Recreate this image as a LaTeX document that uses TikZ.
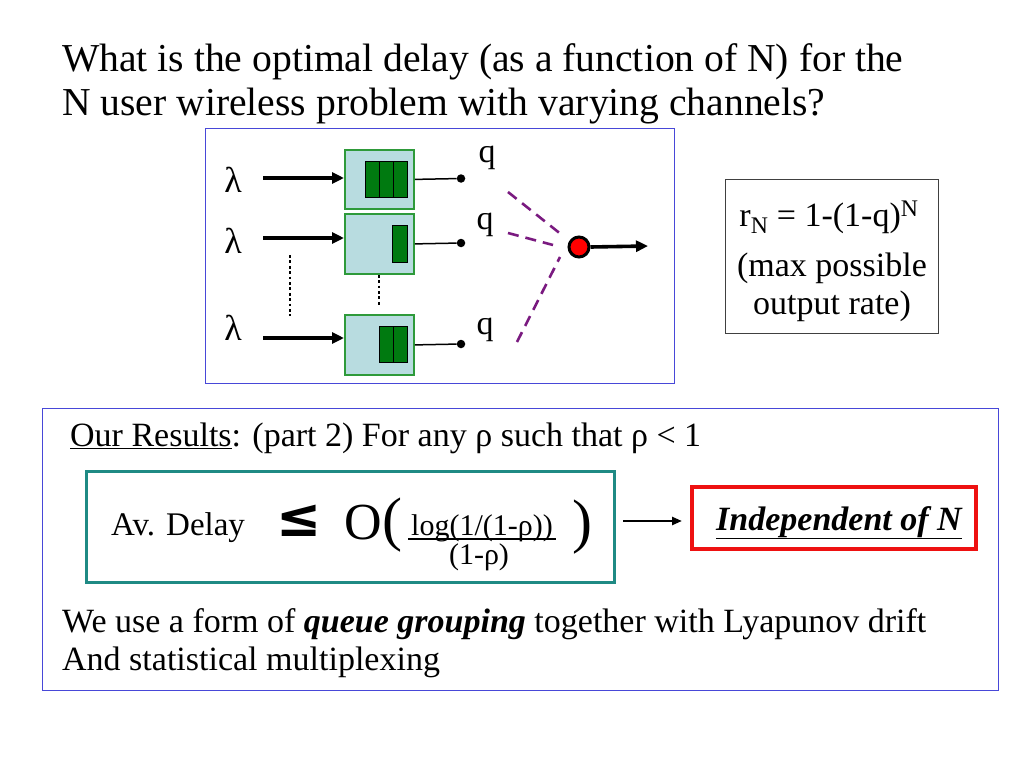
\documentclass[tikz,border=0pt]{standalone}
\usepackage{fontspec}
\setmainfont{Liberation Serif}
\newfontfamily\symfont{DejaVu Sans}
\usetikzlibrary{arrows.meta}
\definecolor{qfill}{HTML}{B8DCE0}
\definecolor{qedge}{HTML}{2E9A3A}
\definecolor{pkt}{HTML}{007A10}
\definecolor{frameblue}{HTML}{4848D8}
\definecolor{tealedge}{HTML}{1F8A84}
\definecolor{dashpurple}{HTML}{7A1A80}
\definecolor{redbox}{HTML}{EE1111}
\tikzset{
  body/.style={font=\fontsize{34}{39}\selectfont, inner sep=0pt},
  titletext/.style={font=\fontsize{39.6}{45}\selectfont, inner sep=0pt, anchor=base west},
  queuebox/.style={draw=qedge, fill=qfill, line width=1.8pt, minimum width=69pt, anchor=north west, inner sep=0pt},
  packet/.style={draw=black, fill=pkt, line width=0.7pt},
  feedarrow/.style={line width=3.6pt, -{Triangle[length=12pt,width=11pt]}},
  servline/.style={line width=1.5pt},
  sdot/.style={circle, fill=black, minimum size=8.5pt, inner sep=0pt},
  chan/.style={dashpurple, line width=2.6pt, dash pattern=on 11pt off 7pt},
  dots/.style={line width=2.8pt, dash pattern=on 2.8pt off 2.6pt},
  fracpart/.style={font=\fontsize{30}{34}\selectfont, inner sep=0pt, anchor=base},
}
\begin{document}
\begin{tikzpicture}[x=1pt,y=-1pt]
\useasboundingbox[fill=white] (0,0) rectangle (1024,768);

% title
\node[titletext] (t1) at (62,71) {What is the optimal delay (as a function of N) for the};
\node[titletext] (t2) at (62,115) {N user wireless problem with varying channels?};

% diagram frame
\node[draw=frameblue, line width=1.2pt, minimum width=469pt, minimum height=255pt, anchor=north west, inner sep=0pt] (frame) at (205,128) {};

% lambdas
\node[body, font=\fontsize{36}{40}\selectfont] (l1) at (233,180) {λ};
\node[body, font=\fontsize{36}{40}\selectfont] (l2) at (233,241) {λ};
\node[body, font=\fontsize{36}{40}\selectfont] (l3) at (233,328) {λ};

% queues
\node[queuebox, minimum height=59pt] (Q1) at (344,149) {};
\node[queuebox, minimum height=60pt] (Q2) at (344,213) {};
\node[queuebox, minimum height=60pt] (Q3) at (344,314) {};

% packets
\draw[packet] (365,161) rectangle (379,197);
\draw[packet] (379,161) rectangle (393,197);
\draw[packet] (393,161) rectangle (407,197);
\draw[packet] (392,225) rectangle (407,262);
\draw[packet] (379,326) rectangle (393,362);
\draw[packet] (393,326) rectangle (407,362);

% arrivals
\coordinate (a1) at (263,178);
\coordinate (a2) at (263,238);
\coordinate (a3) at (263,338);
\draw[feedarrow] (a1) -- (a1 -| Q1.west);
\draw[feedarrow] (a2) -- (a2 -| Q2.west);
\draw[feedarrow] (a3) -- (a3 -| Q3.west);

% dotted lines
\coordinate (v1) at (290,255);
\coordinate (v2) at (290,316);
\draw[dots] (v1) -- (v2);
\draw[dots] (Q2.south -| 379,0) -- (379,306);

% server lines and dots
\node[sdot] (d1) at (461,178.5) {};
\node[sdot] (d2) at (461,243) {};
\node[sdot] (d3) at (461,344) {};
\draw[servline] (Q1.east) -- (d1);
\draw[servline] (Q2.east) -- (d2);
\draw[servline] (Q3.east) -- (d3);

% q labels
\node[body] (q1) at (487,158) {q};
\node[body] (q2) at (485,225) {q};
\node[body] (q3) at (485,330) {q};

% channel dashed lines
\coordinate (c1a) at (508,192); \coordinate (c1b) at (562,235);
\coordinate (c2a) at (508,233); \coordinate (c2b) at (553,245);
\coordinate (c3a) at (517,342); \coordinate (c3b) at (560,257);
\draw[chan] (c1a) -- (c1b);
\draw[chan] (c2a) -- (c2b);
\draw[chan] (c3a) -- (c3b);

% output server
\node[circle, draw=black, fill=red, line width=3pt, minimum size=20pt, inner sep=0pt] (srv) at (579,247) {};
\coordinate (out) at (648,246);
\draw[feedarrow] (srv.east) -- (out);

% rate box
\node[draw=black!75, line width=1pt, minimum width=213pt, minimum height=154pt, anchor=north west, inner sep=0pt] (rbox) at (725,179) {};
\node[body, anchor=base] (r1) at (829,226) {r\textsubscript{N} = 1-(1-q)\textsuperscript{N}};
\node[body, anchor=base] (r2) at (832,276) {(max possible};
\node[body, anchor=base] (r3) at (832,314) {output rate)};

% results frame
\node[draw=frameblue, line width=1.2pt, minimum width=956pt, minimum height=282pt, anchor=north west, inner sep=0pt] (res) at (42,408) {};
\node[body, anchor=base west] (our) at (70,446) {\underline{Our Results}: (part 2) For any ρ such that ρ < 1};

% formula box
\node[draw=tealedge, line width=3pt, minimum width=528pt, minimum height=111pt, anchor=north west, inner sep=0pt] (fbox) at (85,470) {};
\node[font=\fontsize{33}{36}\selectfont, inner sep=0pt, anchor=base west] (av) at (111,535) {Av. Delay};
\node[font=\fontsize{54}{58}\selectfont\symfont\bfseries, inner sep=0pt, anchor=base] (le) at (299,536) {≤};
\node[font=\fontsize{52}{56}\selectfont, inner sep=0pt, anchor=base west] (O) at (344,539) {O};
\node[font=\fontsize{60}{64}\selectfont, inner sep=0pt, anchor=base west] (op) at (O.base east) {(};
\node[fracpart] (num) at (482,535) {log(1/(1-ρ))};
\coordinate (b1) at (408,539); \coordinate (b2) at (556,539);
\draw[line width=1.4pt] (b1) -- (b2);
\node[fracpart] (den) at (479,564) {(1-ρ)};
\node[font=\fontsize{60}{64}\selectfont, inner sep=0pt, anchor=base west] (cp) at (572,541) {)};

% arrow to result
\coordinate (ar1) at (623,521);
\node[draw=redbox, line width=4pt, minimum width=284pt, minimum height=62pt, anchor=north west, inner sep=0pt] (indep) at (690,485) {};
\node[body, anchor=base] (indt) at (839,530) {\textbf{\textit{\underline{Independent of N}}}};
\draw[line width=2.4pt, -{Triangle[length=10pt,width=8pt]}] (ar1) -- (ar1 -| 682,0);

% bottom text
\node[body, anchor=base west] (w1) at (62,632) {We use a form of \textbf{\textit{queue grouping}} together with Lyapunov drift};
\node[body, anchor=base west] (w2) at (62,670) {And statistical multiplexing};
\end{tikzpicture}
\end{document}
